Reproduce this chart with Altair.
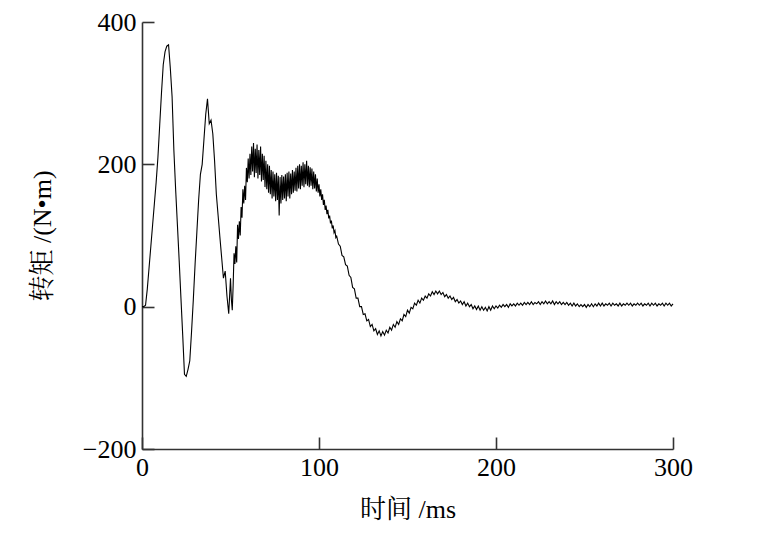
import altair as alt
import pandas as pd

# Torque (N·m).
# 0-49 ms: every 1 ms
torque_a = [
    0, 0, 2, 25, 55, 85, 115, 145, 175, 210,
    255, 300, 340, 358, 366, 368, 335, 295, 220, 165,
    115, 65, 12, -40, -95, -98, -88, -76, -35, 10,
    60, 105, 150, 186, 200, 235, 270, 292, 257, 262,
    243, 205, 158, 128, 98, 69, 40, 50, 15, -10,
]
# 50-109.5 ms: every 0.5 ms (noisy section)
torque_b = [
    40, 10, -5, 30, 75, 60, 85, 62, 115, 95,
    120, 100, 140, 125, 165, 145, 170, 150, 195, 175,
    208, 180, 215, 185, 225, 190, 230, 182, 222, 188,
    228, 180, 220, 185, 225, 176, 215, 178, 212, 168,
    205, 165, 200, 160, 198, 158, 192, 152, 190, 155,
    186, 148, 188, 150, 184, 128, 182, 145, 185, 150,
    183, 152, 186, 148, 188, 155, 190, 152, 187, 158,
    192, 160, 190, 163, 195, 162, 198, 166, 200, 165,
    198, 170, 203, 168, 200, 172, 205, 170, 198, 168,
    196, 170, 194, 165, 190, 166, 186, 162, 180, 160,
    172, 155, 165, 150, 158, 143, 150, 136, 142, 130,
    136, 124, 128, 117, 121, 110, 114, 104, 107, 97,
]
# 110-300 ms: every 1 ms
torque_c = [
    99, 88, 85, 72, 70, 59, 57, 44, 41, 27,
    25, 12, 12, 0, 0, -11, -10, -20, -18, -28,
    -25, -34, -31, -39, -34, -41, -35, -40, -33, -37,
    -29, -33, -25, -29, -21, -25, -17, -20, -11, -14,
    -5, -9, -1, -3, 5, 2, 9, 5, 12, 9,
    15, 12, 18, 15, 21, 17, 22, 18, 22, 17,
    20, 14, 17, 12, 15, 10, 13, 7, 10, 5,
    8, 3, 7, 1, 5, 0, 3, -3, 1, -4,
    1, -5, 0, -5, -1, -6, 0, -5, 1, -3,
    1, -2, 2, -1, 3, 0, 3, -1, 4, 1,
    4, 1, 5, 2, 5, 2, 6, 3, 6, 3,
    7, 3, 6, 4, 7, 3, 7, 4, 8, 4,
    7, 4, 8, 3, 7, 4, 7, 3, 6, 3,
    6, 2, 5, 1, 5, 1, 4, 0, 3, 0,
    3, -1, 3, 0, 4, 0, 4, 1, 5, 1,
    5, 1, 4, 2, 5, 1, 5, 2, 4, 1,
    5, 1, 4, 2, 5, 2, 5, 1, 4, 2,
    5, 2, 5, 1, 4, 2, 5, 1, 5, 2,
    5, 1, 4, 2, 5, 1, 5, 2, 5, 1,
    4,
]
time_a = list(range(0, 50))
time_b = [50 + 0.5 * i for i in range(len(torque_b))]
time_c = list(range(110, 110 + len(torque_c)))

x_ticks = [0, 100, 200, 300]
y_ticks = [-200, 0, 200, 400]
x_title = "时间 /ms"
y_title = "转矩 /(N•m)"

df = pd.DataFrame({
    "t": time_a + time_b + time_c,
    "torque": torque_a + torque_b + torque_c,
})

W, H = 531, 427
FONT = "'Liberation Serif', 'Times New Roman', serif"
TITLE_FONT = "'Liberation Serif', 'Noto Serif CJK SC', 'Noto Sans CJK SC', serif"
AX = "#333333"

xs = alt.Scale(domain=[0, 300], nice=False, zero=False)
ys = alt.Scale(domain=[-200, 400], nice=False, zero=False)

main = alt.Chart(df).mark_line(color="black", strokeWidth=1.1).encode(
    x=alt.X("t:Q", scale=xs, axis=alt.Axis(
        values=x_ticks, ticks=False, grid=False, domainColor=AX, domainWidth=1.6,
        labelFont=FONT, labelFontSize=26, labelColor="black", labelPadding=5,
        labelFlush=False, labelOverlap=False, format="d",
        title=x_title, titleFont=TITLE_FONT, titleFontSize=26, titleFontWeight="normal",
        titleColor="black", titlePadding=16)),
    y=alt.Y("torque:Q", scale=ys, axis=alt.Axis(
        values=y_ticks, ticks=False, grid=False, domainColor=AX, domainWidth=1.6,
        labelFont=FONT, labelFontSize=26, labelColor="black", labelPadding=6,
        labelFlush=False, labelOverlap=False, format="d",
        title=y_title, titleFont=TITLE_FONT, titleFontSize=26, titleFontWeight="normal",
        titleColor="black", titlePadding=27)),
)

inner_ticks = alt.Chart(df).mark_line(opacity=0).encode(
    x=alt.X("t:Q", scale=xs, axis=alt.Axis(
        orient="top", offset=-H, values=x_ticks, labels=False, domain=False,
        grid=False, tickSize=12, tickColor=AX, tickWidth=1.6, title=None)),
    y=alt.Y("torque:Q", scale=ys, axis=alt.Axis(
        orient="right", offset=-W, values=y_ticks, labels=False, domain=False,
        grid=False, tickSize=12, tickColor=AX, tickWidth=1.6, title=None)),
)

chart = alt.layer(main, inner_ticks).resolve_axis(
    x="independent", y="independent"
).properties(
    width=W, height=H,
    view=alt.ViewBackground(stroke="transparent", strokeWidth=0),
    autosize=alt.AutoSizeParams(type="none"),
    padding={"left": 134, "top": 14, "right": 20, "bottom": 82},
).configure_view(stroke="transparent", strokeWidth=0).configure(background="white")

chart.save("out.html", embed_options={"renderer": "svg", "actions": False})
